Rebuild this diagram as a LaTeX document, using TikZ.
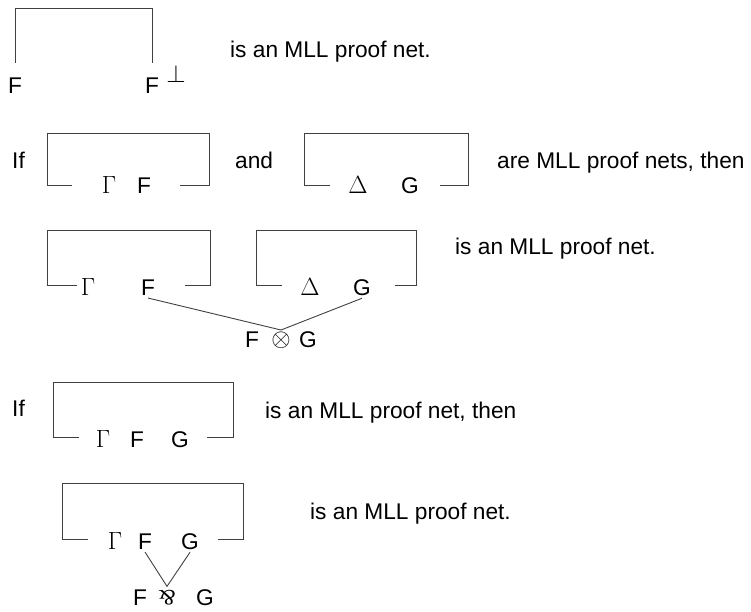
\documentclass[tikz,border=0pt]{standalone}
\usepackage{fontspec}
\usepackage{graphicx}
\setmainfont{Liberation Sans}
\tikzset{
  ln/.style={draw=black!75, line width=0.9pt},
  lbl/.style={inner sep=2pt, font=\fontsize{22.7}{27}\selectfont},
  grk/.style={inner sep=2pt, font=\fontsize{26}{30}\selectfont},
  txt/.style={inner sep=0pt, anchor=base west, font=\fontsize{22.7}{27}\selectfont},
}
\newcommand{\parr}{\rotatebox[origin=c]{180}{\fontspec{Liberation Serif}\fontsize{22}{22}\selectfont\&}}
\begin{document}
\begin{tikzpicture}[x=1pt,y=-1pt]
\useasboundingbox (0,0) rectangle (751,611);
% Row 1: axiom link
\draw[ln] (15,63) -- (15,8) -- (152,8) -- (152,63);
\node[lbl] (a1) at (15,86) {F};
\node[lbl] (a2) at (152,86) {F};
\node[grk] (perp) at (176,74) {$\perp$};
\node[txt] (t1) at (230,57) {is an MLL proof net.};
% Row 2
\node[txt] (if1) at (12,168) {If};
\draw[ln] (72,185) -- (47,185) -- (47,133) -- (209,133) -- (209,185) -- (180,185);
\node[grk] (g2) at (109,185) {$\Gamma$};
\node[lbl] (f2) at (144,186) {F};
\node[txt] (and) at (235,168) {and};
\draw[ln] (330,185) -- (304,185) -- (304,133) -- (468,133) -- (468,185) -- (440,185);
\node[grk] (d2) at (358,185) {$\Delta$};
\node[lbl] (gg2) at (410,186) {G};
\node[txt] (t2) at (497,168) {are MLL proof nets, then};
% Row 3: tensor
\draw[ln] (77,285) -- (47,285) -- (47,230) -- (210,230) -- (210,285) -- (185,285);
\node[grk] (g3) at (88,287) {$\Gamma$};
\node[lbl] (f3) at (148,288) {F};
\draw[ln] (282,285) -- (256,285) -- (256,230) -- (416,230) -- (416,285) -- (395,285);
\node[grk] (d3) at (310,287) {$\Delta$};
\node[lbl] (gg3) at (362,288) {G};
\node[lbl] (tf) at (252,340) {F};
\node[inner sep=1.5pt] (tot) at (281,340) {\fontsize{23}{23}\selectfont$\otimes$};
\node[lbl] (tg) at (308,340) {G};
\draw[ln] (f3.south) -- (tot.north) -- (gg3.south);
\node[txt] (t3) at (455,254) {is an MLL proof net.};
% Row 4
\node[txt] (if2) at (12,416) {If};
\draw[ln] (79,437) -- (53,437) -- (53,382) -- (233,382) -- (233,437) -- (207,437);
\node[grk] (g4) at (103,439) {$\Gamma$};
\node[lbl] (f4) at (137,440) {F};
\node[lbl] (gg4) at (180,440) {G};
\node[txt] (t4) at (265,418) {is an MLL proof net, then};
% Row 5: par
\draw[ln] (88,539) -- (62,539) -- (62,483) -- (243,483) -- (243,539) -- (218,539);
\node[grk] (g5) at (115,541) {$\Gamma$};
\node[lbl] (f5) at (145,542) {F};
\node[lbl] (gg5) at (190,542) {G};
\node[lbl] (pf) at (140,598) {F};
\node[inner sep=4pt] (pp) at (167,598) {\parr};
\node[lbl] (pg) at (205,598) {G};
\draw[ln] (f5.south) -- (pp.north) -- (gg5.south);
\node[txt] (t5) at (310,519) {is an MLL proof net.};
\end{tikzpicture}
\end{document}
